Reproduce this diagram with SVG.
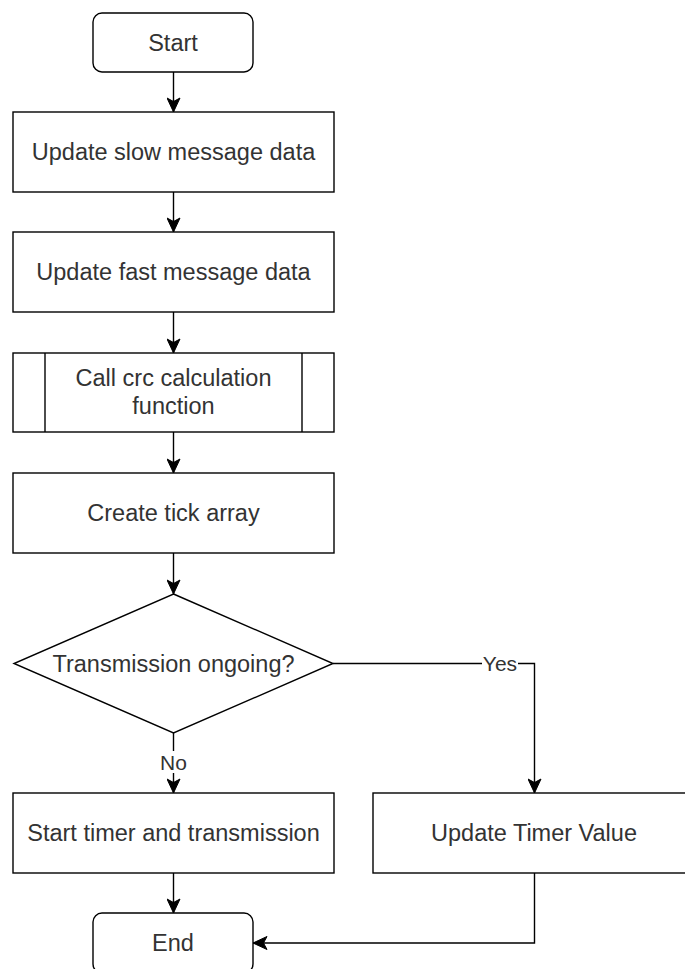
<svg xmlns="http://www.w3.org/2000/svg" width="685" height="969" viewBox="0 0 685 969">
<style>
.box{fill:#fff;stroke:#000;stroke-width:1.4}
.t{font-family:"Liberation Sans",Arial,sans-serif;font-size:23.5px;fill:#333;text-anchor:middle}
.lbl{font-family:"Liberation Sans",Arial,sans-serif;font-size:21px;fill:#333;text-anchor:middle}
.c{fill:none;stroke:#000;stroke-width:1.4}
</style>
<defs>
<marker id="ah" markerUnits="userSpaceOnUse" markerWidth="16" markerHeight="14" viewBox="0 0 16 14" refX="15" refY="7" orient="auto">
<path d="M15,7 L1,0.5 L4.5,7 L1,13.5 Z" fill="#000" stroke="#000" stroke-width="1"/>
</marker>
</defs>
<g id="connectors">
<path class="c" d="M173.5,72 V112" marker-end="url(#ah)"/>
<path class="c" d="M173.5,192 V232" marker-end="url(#ah)"/>
<path class="c" d="M173.5,312 V353" marker-end="url(#ah)"/>
<path class="c" d="M173.5,432 V473" marker-end="url(#ah)"/>
<path class="c" d="M173.5,553 V594" marker-end="url(#ah)"/>
<path class="c" d="M173.5,733 V793" marker-end="url(#ah)"/>
<path class="c" d="M333,663.5 H534.5 V793" marker-end="url(#ah)"/>
<path class="c" d="M173.5,873 V913" marker-end="url(#ah)"/>
<path class="c" d="M534.5,873 V943 H253" marker-end="url(#ah)"/>
<rect x="482" y="652" width="36" height="22" fill="#fff"/>
<text class="lbl" x="500" y="671">Yes</text>
<rect x="160" y="751" width="27" height="22" fill="#fff"/>
<text class="lbl" x="173.5" y="770">No</text>
</g>
<g id="start">
<rect class="box" x="93" y="13" width="160" height="59" rx="9"/>
<text class="t" x="173" y="50.5">Start</text>
</g>
<g id="slow">
<rect class="box" x="13" y="112" width="321" height="80"/>
<text class="t" x="173.5" y="160">Update slow message data</text>
</g>
<g id="fast">
<rect class="box" x="13" y="232" width="321" height="80"/>
<text class="t" x="173.5" y="280">Update fast message data</text>
</g>
<g id="crc">
<rect class="box" x="13" y="353" width="321" height="79"/>
<line class="c" x1="45" y1="353" x2="45" y2="432"/>
<line class="c" x1="302" y1="353" x2="302" y2="432"/>
<text class="t" x="173.5" y="386">Call crc calculation</text>
<text class="t" x="173.5" y="414">function</text>
</g>
<g id="tick">
<rect class="box" x="13" y="473" width="321" height="80"/>
<text class="t" x="173.5" y="521">Create tick array</text>
</g>
<g id="decision">
<polygon class="box" points="173.5,594 333,663.5 173.5,733 14,663.5"/>
<text class="t" x="173.5" y="671.5">Transmission ongoing?</text>
</g>
<g id="starttimer">
<rect class="box" x="13" y="793" width="321" height="80"/>
<text class="t" x="173.5" y="841">Start timer and transmission</text>
</g>
<g id="updatetimer">
<rect class="box" x="373" y="793" width="322" height="80"/>
<text class="t" x="534" y="841">Update Timer Value</text>
</g>
<g id="end">
<rect class="box" x="93" y="913" width="160" height="60" rx="9"/>
<text class="t" x="173" y="951">End</text>
</g>
</svg>
